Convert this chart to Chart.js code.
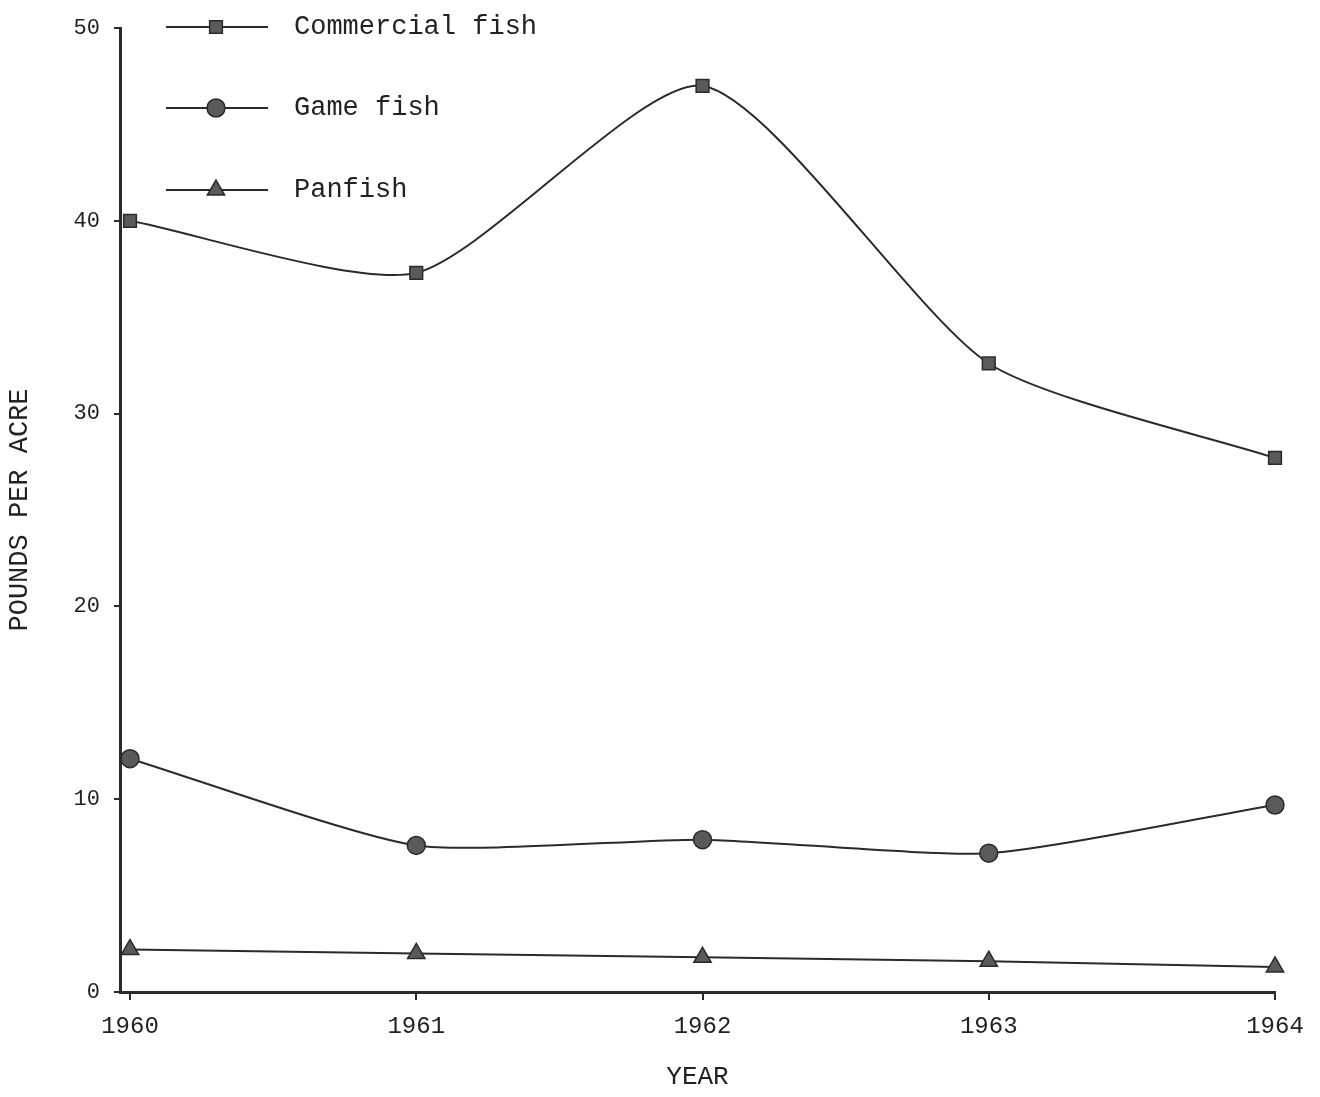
<!DOCTYPE html>
<html>
<head>
<meta charset="utf-8">
<script src="https://cdn.jsdelivr.net/npm/chart.js@4/dist/chart.umd.min.js"></script>
<style>
  html, body { margin: 0; padding: 0; background: #fff; }
  #wrap { width: 1320px; height: 1097px; }
</style>
</head>
<body>
<div id="wrap"><canvas id="c" width="1320" height="1097"></canvas></div>
<script>
// Fish standing crop by year, pounds per acre
const years = [1960, 1961, 1962, 1963, 1964];
const commercialFish = [40.0, 37.3, 47.0, 32.6, 27.7];
const gameFish = [12.1, 7.6, 7.9, 7.2, 9.7];
const panfish = [2.2, 2.0, 1.8, 1.6, 1.3];
const yTicks = [0, 10, 20, 30, 40, 50];

const INK = '#2a2a2a';
const FONT = '"Liberation Mono", "DejaVu Sans Mono", monospace';

function pts(vals) { return years.map((y, i) => ({ x: y, y: vals[i] })); }

function series(label, vals, style, radius, tension) {
  return {
    label, data: pts(vals),
    borderColor: INK, borderWidth: 2,
    backgroundColor: '#555', pointBackgroundColor: '#5a5a5a',
    pointBorderColor: INK, pointBorderWidth: 1.5,
    pointStyle: style, pointRadius: radius,
    tension, clip: false
  };
}

// Legend: short line with the series marker in the middle, label to the right
const sampleLegend = {
  id: 'sampleLegend',
  afterDraw(chart) {
    const ctx = chart.ctx;
    const rows = [27, 108, 190];
    chart.data.datasets.forEach((ds, i) => {
      const y = rows[i];
      ctx.save();
      ctx.strokeStyle = ds.borderColor;
      ctx.lineWidth = 2;
      ctx.beginPath(); ctx.moveTo(166, y); ctx.lineTo(268, y); ctx.stroke();
      ctx.fillStyle = ds.pointBackgroundColor;
      ctx.strokeStyle = ds.pointBorderColor;
      ctx.lineWidth = 1.5;
      Chart.helpers.drawPoint(ctx, { pointStyle: ds.pointStyle, radius: ds.pointRadius, rotation: 0, borderWidth: 1.5 }, 216, y);
      ctx.fillStyle = '#222';
      ctx.font = '27px ' + FONT;
      ctx.textBaseline = 'middle';
      ctx.fillText(ds.label, 294, y);
      ctx.restore();
    });
  }
};

new Chart(document.getElementById('c'), {
  type: 'line',
  data: {
    datasets: [
      series('Commercial fish', commercialFish, 'rect', 9, 0.22),
      series('Game fish', gameFish, 'circle', 9, 0.2),
      series('Panfish', panfish, 'triangle', 10, 0)
    ]
  },
  options: {
    responsive: false,
    animation: false,
    layout: { padding: { left: 0, top: 28, right: 45, bottom: 0 } },
    plugins: { legend: { display: false }, tooltip: { enabled: false } },
    scales: {
      x: {
        type: 'linear', min: 1959.965, max: 1964,
        afterBuildTicks(scale) { scale.ticks = years.map(v => ({ value: v })); },
        afterFit(scale) { scale.height = 105; },
        grid: { drawOnChartArea: false, drawTicks: true, tickLength: 8, color: INK, lineWidth: 2 },
        border: { display: true, color: INK, width: 3 },
        ticks: { color: '#222', font: { family: FONT, size: 24 }, padding: 12, maxRotation: 0,
                 callback: v => String(v) },
        title: { display: true, text: 'YEAR', color: '#222', font: { family: FONT, size: 26 }, padding: { top: 16 } }
      },
      y: {
        min: 0, max: 50,
        afterBuildTicks(scale) { scale.ticks = yTicks.map(v => ({ value: v })); },
        afterFit(scale) { scale.width = 120; },
        grid: { drawOnChartArea: false, drawTicks: true, tickLength: 6, color: INK, lineWidth: 2 },
        border: { display: true, color: INK, width: 3 },
        ticks: { color: '#222', font: { family: FONT, size: 22 }, padding: 14 },
        title: { display: true, text: 'POUNDS PER ACRE', color: '#222', font: { family: FONT, size: 27 }, padding: { bottom: 30 } }
      }
    }
  },
  plugins: [sampleLegend]
});
</script>
</body>
</html>
